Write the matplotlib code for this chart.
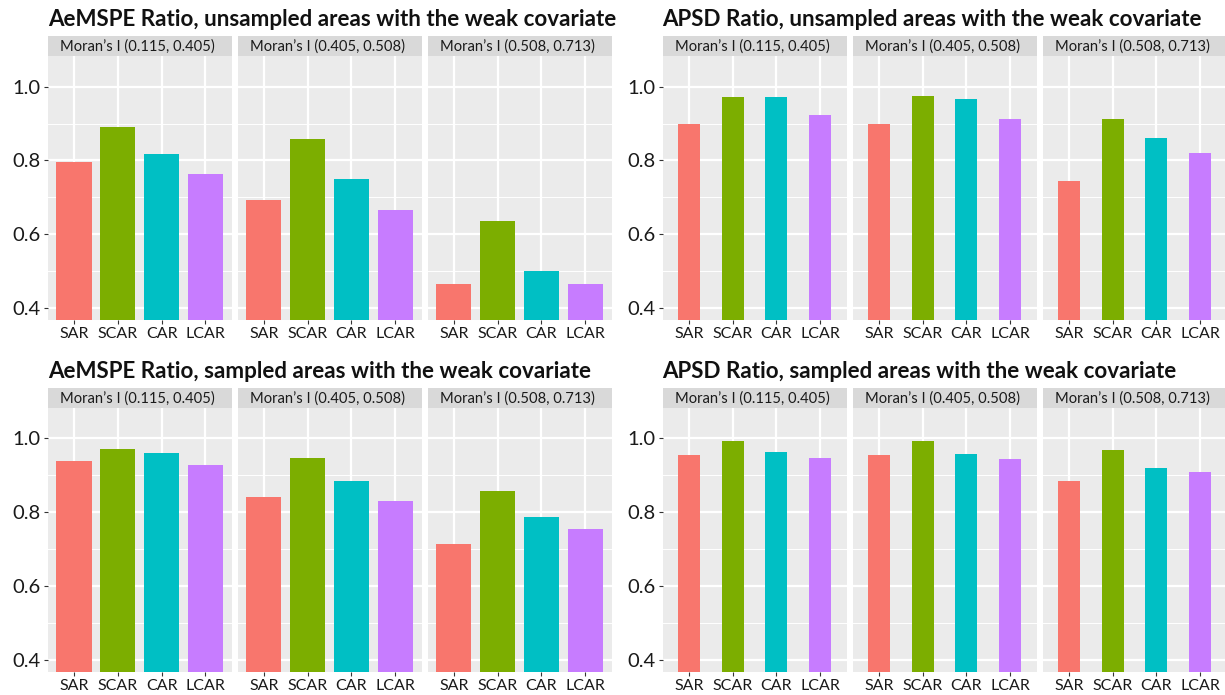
import numpy as np
import matplotlib.pyplot as plt
from matplotlib.ticker import FixedLocator

plt.rcParams['font.family'] = ['Lato', 'DejaVu Sans']

# ---- data ----
models = ['SAR', 'SCAR', 'CAR', 'LCAR']
moran_bins = ['Moran’s I (0.115, 0.405)',
              'Moran’s I (0.405, 0.508)',
              'Moran’s I (0.508, 0.713)']
model_colors = ['#F8766D', '#7CAE00', '#00BFC4', '#C77CFF']

# one row per Moran's I bin, one value per model
aemspe_unsampled = [[0.796, 0.891, 0.818, 0.762],
                    [0.694, 0.859, 0.750, 0.665],
                    [0.465, 0.637, 0.499, 0.465]]
apsd_unsampled = [[0.900, 0.973, 0.972, 0.923],
                  [0.899, 0.975, 0.966, 0.913],
                  [0.743, 0.911, 0.860, 0.821]]
aemspe_sampled = [[0.940, 0.972, 0.960, 0.929],
                  [0.841, 0.946, 0.886, 0.830],
                  [0.715, 0.857, 0.787, 0.756]]
apsd_sampled = [[0.955, 0.992, 0.962, 0.947],
                [0.956, 0.992, 0.959, 0.944],
                [0.885, 0.970, 0.921, 0.908]]

W, H = 1225, 695
fig = plt.figure(figsize=(W / 100, H / 100), dpi=100)
fig.patch.set_facecolor('white')


def px_axes(x0, y0, x1, y1):
    # pixel box (top-left origin) -> figure axes
    return fig.add_axes([x0 / W, 1 - y1 / H, (x1 - x0) / W, (y1 - y0) / H])


def facet_plot(title, values, x_starts, strip_top, panel_bottom, bar_width):
    facet_w = 184
    strip_h = 20.5
    panel_top = strip_top + strip_h
    fig.text(x_starts[0] / W, 1 - (strip_top - 9.5) / H, title,
             fontsize=16.1, fontweight='bold', color='#111111',
             ha='left', va='baseline')
    x = np.arange(1, len(models) + 1)
    for i, (x0, label) in enumerate(zip(x_starts, moran_bins)):
        # strip header
        sax = px_axes(x0, strip_top, x0 + facet_w, panel_top)
        sax.set_facecolor('#D9D9D9')
        sax.set_xticks([])
        sax.set_yticks([])
        for s in sax.spines.values():
            s.set_visible(False)
        sax.text(0.49, 0.46, label, ha='center', va='center',
                 fontsize=10.6, color='#1A1A1A', transform=sax.transAxes)

        ax = px_axes(x0, panel_top, x0 + facet_w, panel_bottom)
        ax.set_facecolor('#EBEBEB')
        ax.bar(x, values[i], width=bar_width, color=model_colors, zorder=3)
        ax.set_xlim(0.4, 4.6)
        ax.set_ylim(0.3675, 1.0825)
        ax.yaxis.set_major_locator(FixedLocator([0.4, 0.6, 0.8, 1.0]))
        ax.yaxis.set_minor_locator(FixedLocator([0.5, 0.7, 0.9]))
        ax.set_xticks(x)
        ax.set_xticklabels(models)
        ax.grid(which='major', color='white', linewidth=1.6, zorder=0)
        ax.grid(which='minor', axis='y', color='white', linewidth=0.7, zorder=0)
        ax.set_axisbelow(True)
        for s in ax.spines.values():
            s.set_visible(False)
        ax.tick_params(axis='both', which='major', length=2.8, width=0.8,
                       color='#333333', pad=2.5)
        ax.tick_params(axis='x', labelsize=11.5, labelcolor='#1A1A1A')
        ax.tick_params(axis='y', labelsize=14.5, labelcolor='#1A1A1A')
        ax.tick_params(which='minor', length=0)
        if i == 0:
            ax.set_yticklabels(['0.4', '0.6', '0.8', '1.0'])
        else:
            ax.tick_params(axis='y', left=False, labelleft=False)


left_x = [47.7, 237.5, 427.5]
right_x = [662.5, 852.5, 1042.5]

facet_plot('AeMSPE Ratio, unsampled areas with the weak covariate',
           aemspe_unsampled, left_x, 35.7, 320, 0.8)
facet_plot('APSD Ratio, unsampled areas with the weak covariate',
           apsd_unsampled, right_x, 35.7, 320, 0.5)
facet_plot('AeMSPE Ratio, sampled areas with the weak covariate',
           aemspe_sampled, left_x, 387.5, 672, 0.8)
facet_plot('APSD Ratio, sampled areas with the weak covariate',
           apsd_sampled, right_x, 387.5, 672, 0.5)

plt.savefig('out.png', dpi=100, facecolor='white')
